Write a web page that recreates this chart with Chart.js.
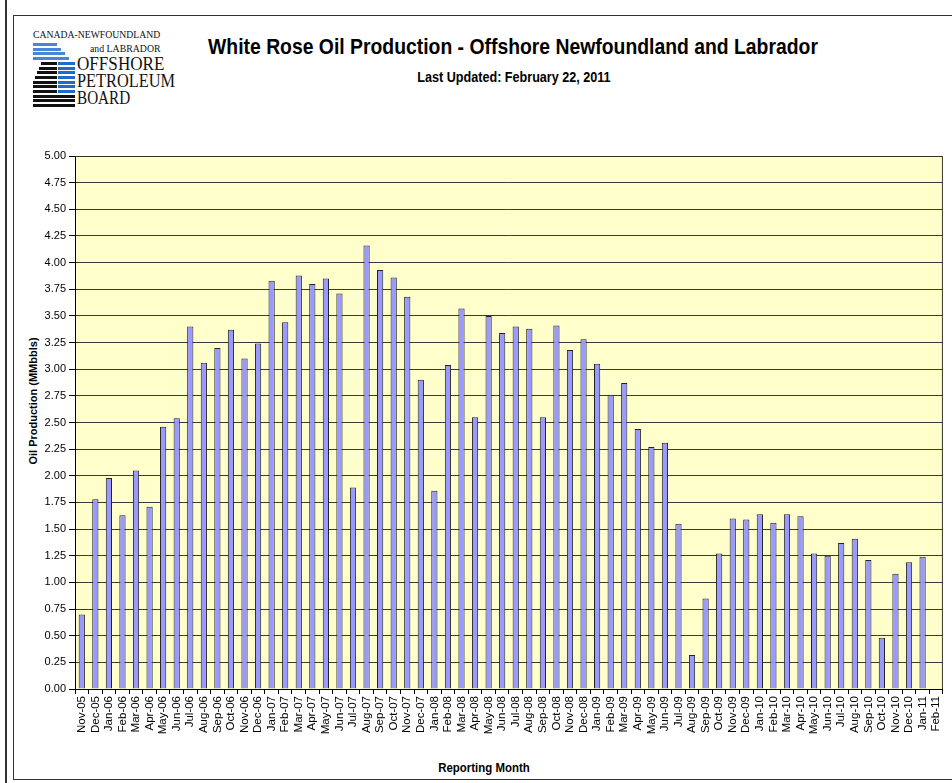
<!DOCTYPE html>
<html>
<head>
<meta charset="utf-8">
<script src="https://cdn.jsdelivr.net/npm/chart.js@4.4.1/dist/chart.umd.min.js"></script>
<style>
    html, body { margin: 0; padding: 0; background: #fff; }
    body { width: 952px; height: 783px; position: relative; overflow: hidden; font-family: "Liberation Sans", Arial, sans-serif; }
    .edge { position: absolute; left: 5px; top: 0; width: 2px; height: 783px; background: #333; }
    .frame { position: absolute; left: 13px; top: 15px; width: 960px; height: 763px; border: 1px solid #333; }
    .title { position: absolute; left: 513px; top: 47px; transform: translate(-50%, -50%) scaleX(0.88); white-space: nowrap; font-weight: bold; font-size: 22px; color: #000; }
    .subtitle { position: absolute; left: 514px; top: 77px; transform: translate(-50%, -50%) scaleX(0.9); white-space: nowrap; font-weight: bold; font-size: 14px; color: #000; }
    .ytitle { position: absolute; left: 33px; top: 401px; transform: translate(-50%, -50%) rotate(-90deg); white-space: nowrap; font-weight: bold; font-size: 11px; }
    .xtitle { position: absolute; left: 484px; top: 767px; transform: translate(-50%, -50%) scaleX(0.88); white-space: nowrap; font-weight: bold; font-size: 13px; }
    .logo { position: absolute; left: 33px; top: 28px; width: 160px; height: 85px; }
    .logo span { position: absolute; font-family: "Liberation Serif", serif; color: #111; white-space: nowrap; transform-origin: 0 0; }
    .stripe { position: absolute; height: 3px; }
    #wrap { position: absolute; left: 14px; top: 145px; width: 938px; height: 632px; }
</style>
</head>
<body>
<div class="edge"></div>
<div class="frame"></div>
<div class="logo" id="logo">
    <span style="left:0; top:1px; font-size:10px; transform:scaleX(0.97);">CANADA-NEWFOUNDLAND</span>
    <span style="left:57px; top:15px; font-size:10px; transform:scaleX(0.98);">and LABRADOR</span>
    <span style="left:44px; top:25px; font-size:19px; transform:scaleX(0.9);">OFFSHORE</span>
    <span style="left:44px; top:42px; font-size:19px; transform:scaleX(0.86);">PETROLEUM</span>
    <span style="left:44px; top:59px; font-size:19px; transform:scaleX(0.8);">BOARD</span>
</div>
<div class="title">White Rose Oil Production - Offshore Newfoundland and Labrador</div>
<div class="subtitle">Last Updated: February 22, 2011</div>
<div class="ytitle">Oil Production (MMbbls)</div>
<div class="xtitle">Reporting Month</div>
<div id="wrap"><canvas id="oilChart"></canvas></div>
<script>
// Data
const months = ['Nov-05', 'Dec-05',
    'Jan-06', 'Feb-06', 'Mar-06', 'Apr-06', 'May-06', 'Jun-06', 'Jul-06', 'Aug-06', 'Sep-06', 'Oct-06', 'Nov-06', 'Dec-06',
    'Jan-07', 'Feb-07', 'Mar-07', 'Apr-07', 'May-07', 'Jun-07', 'Jul-07', 'Aug-07', 'Sep-07', 'Oct-07', 'Nov-07', 'Dec-07',
    'Jan-08', 'Feb-08', 'Mar-08', 'Apr-08', 'May-08', 'Jun-08', 'Jul-08', 'Aug-08', 'Sep-08', 'Oct-08', 'Nov-08', 'Dec-08',
    'Jan-09', 'Feb-09', 'Mar-09', 'Apr-09', 'May-09', 'Jun-09', 'Jul-09', 'Aug-09', 'Sep-09', 'Oct-09', 'Nov-09', 'Dec-09',
    'Jan-10', 'Feb-10', 'Mar-10', 'Apr-10', 'May-10', 'Jun-10', 'Jul-10', 'Aug-10', 'Sep-10', 'Oct-10', 'Nov-10', 'Dec-10',
    'Jan-11', 'Feb-11'];

const production = [0.70, 1.78,
    1.98, 1.63, 2.05, 1.71, 2.46, 2.54, 3.40, 3.06, 3.20, 3.37, 3.10, 3.24,
    3.83, 3.44, 3.88, 3.80, 3.85, 3.71, 1.89, 4.16, 3.93, 3.86, 3.68, 2.90,
    1.86, 3.04, 3.57, 2.55, 3.50, 3.34, 3.40, 3.38, 2.55, 3.41, 3.18, 3.28,
    3.05, 2.76, 2.87, 2.44, 2.27, 2.31, 1.55, 0.32, 0.85, 1.27, 1.60, 1.59,
    1.64, 1.56, 1.64, 1.62, 1.27, 1.25, 1.37, 1.41, 1.21, 0.48, 1.08, 1.19,
    1.24, null];

const yMin = 0;
const yMax = 5;
const yStep = 0.25;

// Logo stripes (decoration only)
const logo = document.getElementById('logo');
for (let i = 0; i < 14; i++) {
    const y = 15 + Math.round(i * 4.7);
    if (i < 4) {
        addStripe(0, y, 24 + i * 4, '#4a86d8');
    } else if (i < 11) {
        const indent = Math.max(0, 8 - (i - 4) * 2);
        addStripe(indent, y, 24 - indent, '#111');
        addStripe(25, y, 17, '#1c6cc8');
    } else {
        addStripe(0, y, 42, '#111');
    }
}
function addStripe(x, y, w, color) {
    const s = document.createElement('div');
    s.className = 'stripe';
    s.style.left = x + 'px';
    s.style.top = y + 'px';
    s.style.width = w + 'px';
    s.style.background = color;
    logo.appendChild(s);
}

// Plot area background and frame
const plotFrame = {
    id: 'plotFrame',
    beforeDraw(chart) {
        const { ctx, chartArea: a } = chart;
        ctx.save();
        ctx.fillStyle = '#FFFFCC';
        ctx.fillRect(a.left, a.top, a.right - a.left, a.bottom - a.top);
        ctx.restore();
    },
    afterDatasetsDraw(chart) {
        const { ctx, chartArea: a } = chart;
        ctx.save();
        ctx.strokeStyle = '#333';
        ctx.lineWidth = 1;
        ctx.beginPath();
        ctx.moveTo(a.left, a.top + 0.5);
        ctx.lineTo(a.right - 0.5, a.top + 0.5);
        ctx.lineTo(a.right - 0.5, a.bottom);
        ctx.stroke();
        ctx.restore();
    }
};

const ctx = document.getElementById('oilChart').getContext('2d');
new Chart(ctx, {
    type: 'bar',
    data: {
        labels: months,
        datasets: [
            {
                label: 'Oil Production',
                data: production,
                backgroundColor: '#9999FF',
                borderColor: '#222',
                borderWidth: 1,
                barPercentage: 0.46,
                categoryPercentage: 1
            }
        ]
    },
    options: {
        responsive: true,
        maintainAspectRatio: false,
        animation: false,
        layout: {
            padding: { top: 11, right: 6, left: 0, bottom: 0 }
        },
        plugins: {
            legend: { display: false },
            tooltip: { enabled: false }
        },
        scales: {
            x: {
                afterFit(scale) { scale.height = 88; },
                ticks: {
                    autoSkip: false,
                    minRotation: 90,
                    maxRotation: 90,
                    padding: 2,
                    color: '#000',
                    font: { family: 'Liberation Sans', size: 11.5 }
                },
                grid: {
                    offset: true,
                    drawOnChartArea: false,
                    drawTicks: true,
                    tickLength: 5,
                    color: '#000'
                },
                border: { display: true, color: '#000' }
            },
            y: {
                min: yMin,
                max: yMax,
                afterFit(scale) { scale.width = 61; },
                ticks: {
                    stepSize: yStep,
                    padding: 3,
                    color: '#000',
                    font: { family: 'Liberation Sans', size: 11 },
                    callback: (v) => v.toFixed(2)
                },
                grid: {
                    color: '#3a3a3a',
                    tickLength: 6,
                    tickColor: '#000'
                },
                border: { display: true, color: '#000' }
            }
        }
    },
    plugins: [plotFrame]
});
</script>
</body>
</html>
